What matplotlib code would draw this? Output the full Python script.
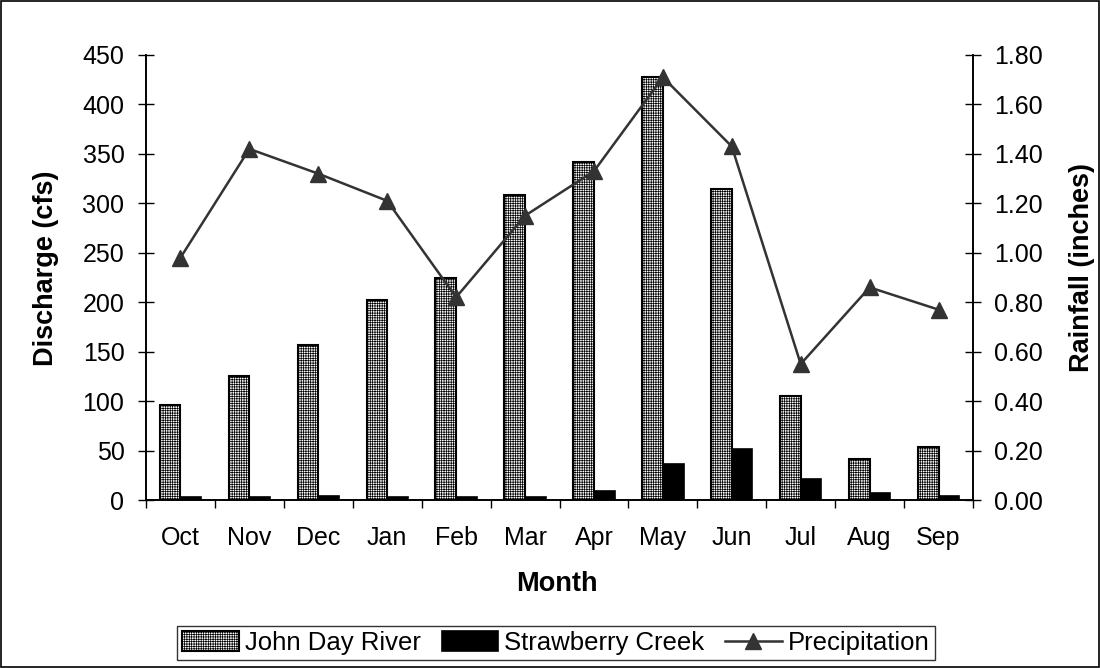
import numpy as np
import matplotlib.pyplot as plt
from matplotlib.patches import Rectangle
import matplotlib as mpl

plt.rcParams['font.family'] = ['Liberation Sans', 'DejaVu Sans']
mpl.rcParams['hatch.linewidth'] = 0.5

months = ['Oct', 'Nov', 'Dec', 'Jan', 'Feb', 'Mar', 'Apr', 'May', 'Jun', 'Jul', 'Aug', 'Sep']
john_day = [96, 125, 157, 202, 225, 308, 342, 428, 314, 105, 41, 54]
strawberry = [3, 3, 4, 3, 3, 3, 9, 36, 52, 21, 7, 4]
precip = [0.98, 1.42, 1.32, 1.21, 0.82, 1.15, 1.33, 1.71, 1.43, 0.55, 0.86, 0.77]

fs = 18

fig = plt.figure(figsize=(11, 6.68), dpi=100)
ax = fig.add_axes([146/1100, 1 - 500/668, (973-146)/1100, 445/668])
ax2 = ax.twinx()

x = np.arange(len(months))
w = 0.3
b1 = ax.bar(x - w/2, john_day, w, facecolor='white', edgecolor='black', hatch='+++++++', linewidth=1.5, label='John Day River')
b2 = ax.bar(x + w/2, strawberry, w, facecolor='black', edgecolor='black', linewidth=1.2, label='Strawberry Creek')
l1, = ax2.plot(x, precip, color='#333333', linewidth=1.8, marker='^', markersize=12, label='Precipitation')

ax.set_xlim(-0.5, 11.5)
ax.set_ylim(0, 450)
ax2.set_ylim(0, 1.8)
ax.set_yticks(np.arange(0, 451, 50))
ax2.set_yticks(np.arange(0, 1.81, 0.2))
ax2.set_yticklabels(['%.2f' % v for v in np.arange(0, 1.81, 0.2)])

ax.set_xticks(np.arange(-0.5, 12, 1))
ax.set_xticklabels([])
ax.set_xticks(x, minor=True)
ax.set_xticklabels(months, minor=True)
ax.tick_params(axis='x', which='major', direction='out', length=5.5, width=1)
ax.tick_params(axis='x', which='minor', length=0, pad=19, labelsize=fs)
ax.tick_params(axis='y', direction='inout', length=11, width=1, pad=10, labelsize=fs)
ax2.tick_params(axis='y', direction='inout', length=11, width=1, pad=9.5, labelsize=fs)

for a in (ax, ax2):
    a.spines['top'].set_visible(False)
    for s in ('left', 'right', 'bottom'):
        a.spines[s].set_linewidth(1.2)

lfs = 19.5
fig.text(557/1100, 1 - 584/668, 'Month', fontsize=lfs, fontweight='bold', ha='center', va='center')
fig.text(46/1100, 1 - 268/668, 'Discharge (cfs)', fontsize=lfs, fontweight='bold', ha='center', va='center', rotation=90)
fig.text(1082/1100, 1 - 268/668, 'Rainfall (inches)', fontsize=lfs, fontweight='bold', ha='center', va='center', rotation=90)

leg = fig.legend([b1, b2, l1], ['John Day River', 'Strawberry Creek', 'Precipitation'],
                 loc='center', bbox_to_anchor=(556/1100, 1 - 643/668), ncol=3, fontsize=18.5,
                 frameon=True, fancybox=False, edgecolor='black', handlelength=2.2,
                 handleheight=0.8, handletextpad=0.25, columnspacing=0.8, borderpad=0.2,
                 borderaxespad=0.2)
leg.get_frame().set_linewidth(1.0)

fig.patches.append(Rectangle((0.001, 0.001), 0.998, 0.997, transform=fig.transFigure,
                             fill=False, edgecolor='black', linewidth=1.2))

fig.savefig('out.png', dpi=100)
